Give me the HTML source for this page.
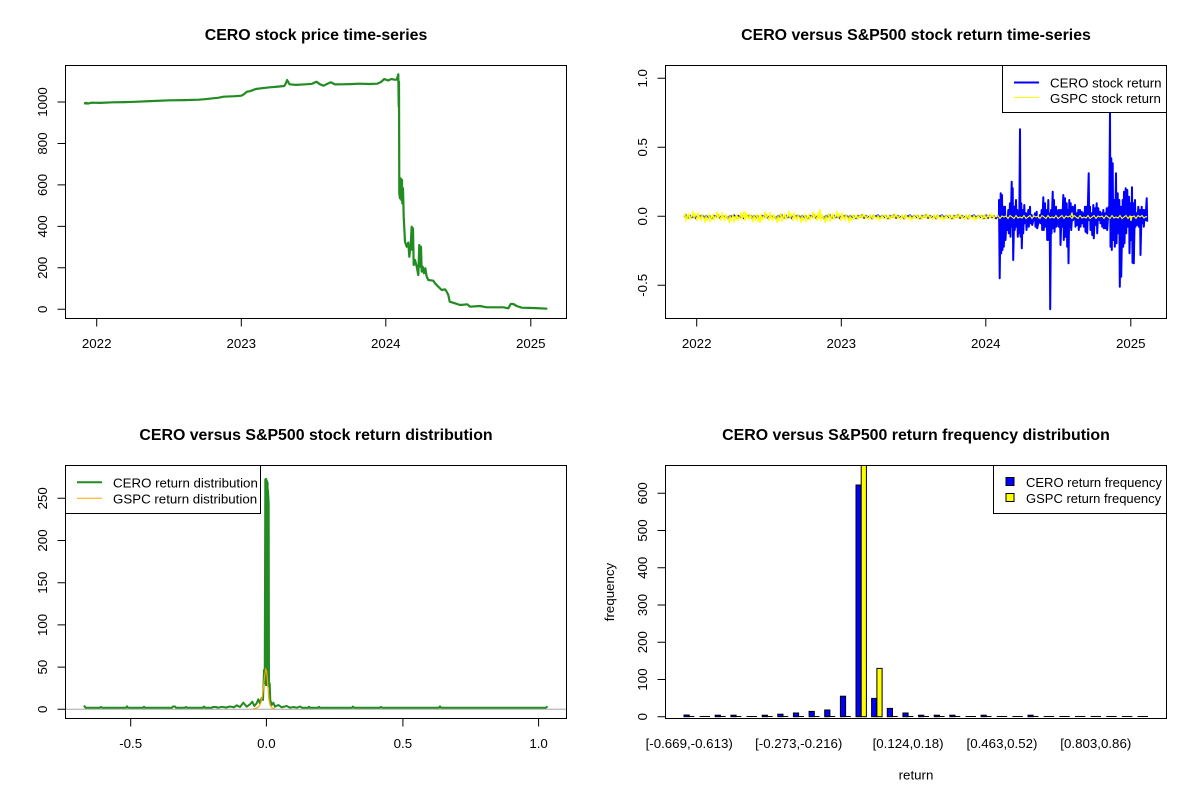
<!DOCTYPE html>
<html>
<head>
<meta charset="utf-8">
<style>
html,body{margin:0;padding:0;background:#fff;}
svg{display:block;}
text{font-family:"Liberation Sans",Arial,sans-serif;font-size:13.3px;fill:#000;}
.t{font-weight:bold;font-size:15.9px;}
.lg{font-size:13px;}
</style>
</head>
<body>
<svg width="1200" height="800" viewBox="0 0 1200 800" xmlns="http://www.w3.org/2000/svg">
<defs>
<path id="zb" d="M0,0 l2,-1.5 l2,2.5 l2,-2 l2,1.5 l2,-1 l2,2 l2,-2.5 l2,1"/>
<path id="ya" d="M0,0 l1,-4 l1,9 l1,-7 l1,3 l1,-5 l1,7 l1,-4 l1,1 l1,-6 l1,8 l1,-6 l1,4"/>
<path id="yb" d="M0,0 l1,-3 l1,6 l1,-4 l1,2 l1,-3 l1,5 l1,-4 l1,1 l1,-2 l1,4 l1,-5 l1,3 l1,-2 l1,4 l1,-3 l1,1"/>
<path id="yc" d="M0,0 l2,-1.5 l2,3 l2,-2.5 l2,1 l2,-1 l2,2.5 l2,-3 l2,1.5"/>
</defs>
<rect width="1200" height="800" fill="#fff"/>

<!-- ============ TOP LEFT ============ -->
<text class="t" x="316" y="40" text-anchor="middle">CERO stock price time-series</text>
<polyline fill="none" stroke="#228B22" stroke-width="2.2" stroke-linejoin="round" points="
84,103.5 86,102.8 88,103.6 91.4,102.7 100,102.9 112.9,102.3 125,102.1 137.9,101.7 150,101.1 170,100.3 185,100.1 198.6,99.7 205,99.2 212.9,98.3 218,97.8 223.6,96.7 235,96.2 241.4,95.7 244,94.2 246.8,91.7 250,91.2 255.7,89 262,88.2 270,87.3 278,86.6 284.3,86 286,83 287.1,80 289.6,84.3 296,84.9 305.7,84.3 312,83.8 316.4,81.7 320,84.3 323.6,85.7 327,84 330.7,82.3 335,84.4 341.4,84.3 350,84.1 359.3,83.7 370,84 377.1,83.7 381,82 384.3,79 388,80.5 391.4,79 394,79.6 396.8,79.7 398.3,74.3 398.7,106.7 399,81.7 399.3,193.3 400,198.3 400.7,178.3 401.3,200 402,180 402.3,203.3 403,188.3 403.7,216.7 405,241.7 406.7,246.7 408.3,242.7 409.3,256.7 410.7,245 411.7,226.7 412.3,250 413,228.3 413.7,265 415,260 416.7,266.7 418.3,275 419.3,245 420.3,266.7 421,246.7 421.7,271.7 422.7,266.7 424,273.3 425.3,268.3 426.7,276.7 428.3,280 433.3,280.7 435,283.3 438.3,286.7 441.7,290 445,289.3 446.7,291.7 448.3,295 449.7,301.7 455,303.3 460,305 467.3,304.3 470,306.7 480,306 486.7,307.3 503.3,307.3 508.3,308.3 510.7,304 513.3,304 516.7,306 521.7,307.7 533.3,308 547.3,308.7"/>
<rect x="65.5" y="65.5" width="501" height="253" fill="none" stroke="#000"/>
<path stroke="#000" fill="none" d="M57.5,309.3H65.5M57.5,267.8H65.5M57.5,226.4H65.5M57.5,184.9H65.5M57.5,143.5H65.5M57.5,102H65.5
M96.7,318.5V326.5M241.3,318.5V326.5M385.8,318.5V326.5M530.8,318.5V326.5"/>
<text transform="translate(47,309.3) rotate(-90)" text-anchor="middle">0</text>
<text transform="translate(47,267.8) rotate(-90)" text-anchor="middle">200</text>
<text transform="translate(47,226.4) rotate(-90)" text-anchor="middle">400</text>
<text transform="translate(47,184.9) rotate(-90)" text-anchor="middle">600</text>
<text transform="translate(47,143.5) rotate(-90)" text-anchor="middle">800</text>
<text transform="translate(47,102) rotate(-90)" text-anchor="middle">1000</text>
<text x="96.7" y="348" text-anchor="middle">2022</text>
<text x="241.3" y="348" text-anchor="middle">2023</text>
<text x="385.8" y="348" text-anchor="middle">2024</text>
<text x="530.8" y="348" text-anchor="middle">2025</text>

<!-- ============ TOP RIGHT ============ -->
<text class="t" x="916" y="40" text-anchor="middle">CERO versus S&amp;P500 stock return time-series</text>
<g fill="none" stroke="#0000FF" stroke-width="2" stroke-linejoin="round">
<use href="#zb" x="684" y="216.8"/><use href="#zb" x="700" y="216.8"/><use href="#zb" x="716" y="216.8"/><use href="#zb" x="732" y="216.8"/>
<use href="#zb" x="748" y="216.8"/><use href="#zb" x="764" y="216.8"/><use href="#zb" x="780" y="216.8"/><use href="#zb" x="796" y="216.8"/>
<use href="#zb" x="812" y="216.8"/><use href="#zb" x="828" y="216.8"/><use href="#zb" x="844" y="216.8"/><use href="#zb" x="860" y="216.8"/>
<use href="#zb" x="876" y="216.8"/><use href="#zb" x="892" y="216.8"/><use href="#zb" x="908" y="216.8"/><use href="#zb" x="924" y="216.8"/>
<use href="#zb" x="940" y="216.8"/><use href="#zb" x="956" y="216.8"/><use href="#zb" x="972" y="216.8"/><use href="#zb" x="984" y="216.8"/>
<path d="M999,216 L999,200 L999.7,278.3 L1000.7,193.3 L1001.2,253.3 L1002,195 L1002.5,250 L1003.3,206.7 L1003.8,246.7 L1005,206.7 L1005.5,240 L1006.7,216.7 L1007.2,230 L1008.3,210 L1008.8,233.3 L1010,203.3 L1010.5,236.7 L1011.7,181.7 L1012.2,226.7 L1012.7,188.3 L1013.2,260 L1014.3,206.7 L1014.8,230 L1016,200 L1016.5,226.7 L1017.3,210 L1017.8,236.7 L1018.7,220 L1019.2,233.3 L1020,129.3 L1020.5,236.7 L1021.3,203.3 L1021.8,248.3 L1022.7,210 L1023.2,233.3 L1024.3,205 L1024.8,223.3 L1026,213.3 L1026.5,230 L1028.3,210 L1028.8,226.7 L1030,206.7 L1030.5,223.3 L1031.7,215 L1032.2,225 L1035,213.3 L1035.5,226.7 L1036.7,211.7 L1037.2,228.3 L1040,215 L1040.5,223.3 L1041.7,210 L1042.2,230 L1043.3,197.3 L1043.8,230 L1045,203.3 L1045.5,226.7 L1046.7,210 L1047.2,240 L1048.3,200 L1048.8,240 L1049.7,213.3 L1050.2,309.3 L1051,210 L1051.5,233.3 L1052.7,191.7 L1053.2,228.3 L1054,200 L1054.5,231.7 L1056,206.7 L1056.5,226.7 L1058.3,210 L1058.8,226.7 L1060,210 L1060.5,245 L1061.7,210 L1062.2,226.7 L1063.3,195 L1063.8,240 L1065,198.3 L1065.5,236.7 L1066.7,203.3 L1067.2,246.7 L1068,210 L1068.5,263.3 L1069.3,200 L1069.8,226.7 L1070.7,203.3 L1071.2,230 L1072.7,206.7 L1073.2,220 L1075,205 L1075.5,226.7 L1076.7,213.3 L1077.2,225 L1078.3,210 L1078.8,230 L1080,210 L1080.5,226.7 L1081.7,211.7 L1082.2,223.3 L1083.3,213.3 L1083.8,226.7 L1085,206.7 L1085.5,231.7 L1086.7,206.7 L1087.2,233.3 L1088.7,173.3 L1089.2,220 L1090,206.7 L1090.5,230 L1091.7,213.3 L1092.2,235 L1093.3,205 L1093.8,238.3 L1095,208.3 L1095.5,225 L1096.7,203.3 L1097.2,233.3 L1098.3,208.3 L1098.8,220 L1100,211.7 L1100.5,223.3 L1101.7,213.3 L1102.2,226.7 L1103.3,210 L1103.8,228.3 L1105,213.3 L1105.5,228.3 L1106.7,208.3 L1107.2,230 L1108.7,206.7 L1109.2,218.3 L1110,113.3 L1110.5,246.7 L1111.3,158.3 L1111.8,250 L1112.7,163.3 L1113.2,240 L1114.3,200 L1114.8,246.7 L1116,173.3 L1116.5,243.3 L1117.7,193.3 L1118.2,233.3 L1119.3,200 L1119.8,286.7 L1120.7,206.7 L1121.2,276.7 L1122.7,200 L1123.2,246.7 L1124,191.7 L1124.5,243.3 L1125.7,188.3 L1126.2,233.3 L1127.3,190 L1127.8,226.7 L1129,196.7 L1129.5,253.3 L1130.7,203.3 L1131.2,240 L1132,187.3 L1132.5,262.7 L1133.3,203.3 L1133.8,263.3 L1135,200 L1135.5,226.7 L1136.7,213.3 L1137.2,225 L1138.3,206.7 L1138.8,226.7 L1140,210 L1140.5,255 L1141.7,206.7 L1142.2,223.3 L1143.3,210 L1143.8,226.7 L1145,210 L1145.5,220 L1146.7,198.3 L1147.2,221.7"/>
</g>
<g fill="none" stroke="#FFFF00" stroke-width="1.1">
<use href="#ya" x="684" y="217"/>
<use href="#ya" transform="translate(696,217) scale(1,-1)"/>
<use href="#ya" x="708" y="217.5"/>
<use href="#ya" transform="translate(720,217) scale(1,-1)"/>
<use href="#ya" x="732" y="218"/>
<use href="#ya" transform="translate(744,216.5) scale(1,-1)"/>
<use href="#ya" x="756" y="217.5"/>
<use href="#ya" transform="translate(768,217) scale(1,-1)"/>
<use href="#ya" x="780" y="217"/>
<use href="#ya" transform="translate(792,217) scale(1,-1)"/>
<use href="#ya" x="804" y="217.5"/>
<use href="#ya" transform="translate(816,217) scale(1,-1)"/>
<use href="#ya" x="828" y="217"/>
<use href="#ya" transform="translate(840,217) scale(1,-1)"/>
<use href="#yb" x="852" y="217"/><use href="#yb" transform="translate(868,217) scale(1,-1)"/>
<use href="#yb" x="884" y="217"/><use href="#yb" transform="translate(900,217) scale(1,-1)"/>
<use href="#yb" x="916" y="217"/><use href="#yb" transform="translate(932,217) scale(1,-1)"/>
<use href="#yb" x="948" y="217"/><use href="#yb" transform="translate(964,217) scale(1,-1)"/>
<use href="#yb" x="980" y="217"/>
<use href="#yc" x="996" y="217"/><use href="#yc" transform="translate(1012,217) scale(1,-1)"/>
<use href="#yc" x="1028" y="217"/><use href="#yc" transform="translate(1044,217) scale(1,-1)"/>
<use href="#yc" x="1060" y="217"/><use href="#yc" transform="translate(1076,217) scale(1,-1)"/>
<use href="#yc" x="1092" y="217"/><use href="#yc" transform="translate(1108,217) scale(1,-1)"/>
<use href="#yc" x="1124" y="217"/>
<path d="M1140,217 l2,-1.5 l2,2.5 l2,-1.5 l1,0.5 M819,217 L820,209 L821,218 M759,216 L760,223 L761,216 M743,217 L744,211 L745,221 L746,216 M1071,216 L1072,212.5 L1073,218 M1130,216 L1131,221 L1132,216"/>
</g>
<rect x="665.5" y="65.5" width="501" height="253" fill="none" stroke="#000"/>
<path stroke="#000" fill="none" d="M657.5,285.3H665.5M657.5,216.3H665.5M657.5,147.3H665.5M657.5,78.3H665.5
M696.7,318.5V326.5M841.3,318.5V326.5M985.8,318.5V326.5M1130.8,318.5V326.5"/>
<text transform="translate(647,285.3) rotate(-90)" text-anchor="middle">-0.5</text>
<text transform="translate(647,216.3) rotate(-90)" text-anchor="middle">0.0</text>
<text transform="translate(647,147.3) rotate(-90)" text-anchor="middle">0.5</text>
<text transform="translate(647,78.3) rotate(-90)" text-anchor="middle">1.0</text>
<text x="696.7" y="348" text-anchor="middle">2022</text>
<text x="841.3" y="348" text-anchor="middle">2023</text>
<text x="985.8" y="348" text-anchor="middle">2024</text>
<text x="1130.8" y="348" text-anchor="middle">2025</text>
<rect x="1002.5" y="65.5" width="164" height="47" fill="#fff" stroke="#000"/>
<line x1="1014" y1="82.5" x2="1039" y2="82.5" stroke="#0000FF" stroke-width="2"/>
<line x1="1014" y1="97.5" x2="1039" y2="97.5" stroke="#FFFF00" stroke-width="1"/>
<text x="1050" y="87.5">CERO stock return</text>
<text x="1050" y="103">GSPC stock return</text>

<!-- ============ BOTTOM LEFT ============ -->
<text class="t" x="316" y="440" text-anchor="middle">CERO versus S&amp;P500 stock return distribution</text>
<line x1="65.5" y1="709.3" x2="566.5" y2="709.3" stroke="#BEBEBE" stroke-width="1.3"/>
<path fill="none" stroke="#228B22" stroke-width="2" stroke-linejoin="round" d="M84,705.5 L85.5,707.7 L100,707.7 L101,707 L102,707.7 L126,707.7 L127,706.3 L128,707.7 L143,707.7 L144,706.8 L145,707.7 L172,707.7 L173,706.5 L175,706.5 L176,707.7 L185,707.7 L186,707 L187,707.7 L203,707.7 L204,706.5 L205,707.7 L212,707.7 L213,707 L216,707 L218,707.7 L222,706.8 L226,707.5 L230,706.5 L234,707.3 L236.7,705.3 L240,707 L243.3,702.7 L246.7,706.7 L250,704.3 L252.3,701.7 L254.3,706 L256.7,703.3 L258.3,699.3 L260,703.3 L261.7,698 L263,700 L264,670 L264.7,683.3 L265.3,479.3 L266.2,479 L266.6,482 L267,481 L267.5,503 L268,490 L268.7,503.3 L269,686.7 L269.7,683.3 L270.3,700 L271.7,705 L273.3,702.7 L275,706.7 L278.3,705 L281.7,707.3 L286.7,706 L290,707.7 L293.3,707 L297,707.7 L300,706.5 L302,707.7 L308,707.7 L309,706.8 L310,707.7 L318,707.7 L319,706.8 L320,707.7 L352,707.7 L353,706.6 L354,707.7 L380,707.7 L381,707 L382,707.7 L439,707.7 L440,706.3 L441,707.7 L546,707.7 L547.5,706.3"/>
<path fill="#228B22" d="M265,482 L268.6,482 L268.6,686 L265,686 Z"/>
<polyline fill="none" stroke="#FFA500" stroke-width="1.2" points="253.3,709 258.3,707.3 260.7,703.3 262.3,696.7 263.3,688.3 264.3,678.3 265.7,669.3 266.7,671.7 267.7,683.3 268.7,698.3 270,705 271.7,707.7 275,709"/>
<rect x="65.5" y="465.5" width="501" height="253" fill="none" stroke="#000"/>
<path stroke="#000" fill="none" d="M57.5,709.3H65.5M57.5,667.1H65.5M57.5,624.9H65.5M57.5,582.7H65.5M57.5,540.5H65.5M57.5,498.3H65.5
M130.7,718.5V726.5M266.4,718.5V726.5M402.9,718.5V726.5M538.6,718.5V726.5"/>
<text transform="translate(47,709.3) rotate(-90)" text-anchor="middle">0</text>
<text transform="translate(47,667.1) rotate(-90)" text-anchor="middle">50</text>
<text transform="translate(47,624.9) rotate(-90)" text-anchor="middle">100</text>
<text transform="translate(47,582.7) rotate(-90)" text-anchor="middle">150</text>
<text transform="translate(47,540.5) rotate(-90)" text-anchor="middle">200</text>
<text transform="translate(47,498.3) rotate(-90)" text-anchor="middle">250</text>
<text x="130.7" y="748" text-anchor="middle">-0.5</text>
<text x="266.4" y="748" text-anchor="middle">0.0</text>
<text x="402.9" y="748" text-anchor="middle">0.5</text>
<text x="538.6" y="748" text-anchor="middle">1.0</text>
<rect x="65.5" y="465.5" width="195" height="48" fill="#fff" stroke="#000"/>
<line x1="77" y1="482.3" x2="102" y2="482.3" stroke="#228B22" stroke-width="2"/>
<line x1="77" y1="498.3" x2="102" y2="498.3" stroke="#FFA500" stroke-width="1"/>
<text x="113" y="487.5">CERO return distribution</text>
<text x="113" y="503.5">GSPC return distribution</text>

<!-- ============ BOTTOM RIGHT ============ -->
<text class="t" x="916" y="440" text-anchor="middle">CERO versus S&amp;P500 return frequency distribution</text>
<path stroke="#000" fill="none" d="M683.96,716.5 h10.43 m5.21,0 h10.43 m5.21,0 h10.43 m5.21,0 h10.43 m5.21,0 h10.43 m5.21,0 h10.43 m5.21,0 h10.43 m5.21,0 h10.43 m5.21,0 h10.43 m5.21,0 h10.43 m5.21,0 h10.43 m5.21,0 h10.43 m5.21,0 h10.43 m5.21,0 h10.43 m5.21,0 h10.43 m5.21,0 h10.43 m5.21,0 h10.43 m5.21,0 h10.43 m5.21,0 h10.43 m5.21,0 h10.43 m5.21,0 h10.43 m5.21,0 h10.43 m5.21,0 h10.43 m5.21,0 h10.43 m5.21,0 h10.43 m5.21,0 h10.43 m5.21,0 h10.43 m5.21,0 h10.43 m5.21,0 h10.43 m5.21,0 h10.43"/>
<g stroke="#000" stroke-width="1" fill="#0000FF">
<rect x="684" y="715" width="5.2" height="1.7"/>
<rect x="715.2" y="715.2" width="5.2" height="1.5"/>
<rect x="730.9" y="715.2" width="5.2" height="1.5"/>
<rect x="762.2" y="715.2" width="5.2" height="1.5"/>
<rect x="777.8" y="714.2" width="5.2" height="2.5"/>
<rect x="793.4" y="713" width="5.2" height="3.7"/>
<rect x="809.1" y="711.4" width="5.2" height="5.3"/>
<rect x="824.7" y="710" width="5.2" height="6.7"/>
<rect x="840.4" y="696.2" width="5.2" height="20.5"/>
<rect x="856" y="485" width="5.2" height="231.7"/>
<rect x="871.6" y="698.4" width="5.2" height="18.3"/>
<rect x="887.3" y="708.4" width="5.2" height="8.3"/>
<rect x="902.9" y="713" width="5.2" height="3.7"/>
<rect x="918.6" y="715.2" width="5.2" height="1.5"/>
<rect x="934.2" y="715.2" width="5.2" height="1.5"/>
<rect x="949.8" y="715.2" width="5.2" height="1.5"/>
<rect x="981.1" y="715.2" width="5.2" height="1.5"/>
<rect x="1028" y="715.2" width="5.2" height="1.5"/>
</g>
<g stroke="#000" stroke-width="1" fill="#FFFF00">
<rect x="861.2" y="465.5" width="5.2" height="251.2"/>
<rect x="876.9" y="668.4" width="5.2" height="48.3"/>
</g>
<rect x="665.5" y="465.5" width="501" height="253" fill="none" stroke="#000"/>
<path stroke="#000" fill="none" d="M657.5,716.7H665.5M657.5,679.5H665.5M657.5,642.2H665.5M657.5,605H665.5M657.5,567.8H665.5M657.5,530.5H665.5M657.5,493.3H665.5"/>
<text transform="translate(647,716.7) rotate(-90)" text-anchor="middle">0</text>
<text transform="translate(647,679.5) rotate(-90)" text-anchor="middle">100</text>
<text transform="translate(647,642.2) rotate(-90)" text-anchor="middle">200</text>
<text transform="translate(647,605) rotate(-90)" text-anchor="middle">300</text>
<text transform="translate(647,567.8) rotate(-90)" text-anchor="middle">400</text>
<text transform="translate(647,530.5) rotate(-90)" text-anchor="middle">500</text>
<text transform="translate(647,493.3) rotate(-90)" text-anchor="middle">600</text>
<text x="689.2" y="748" text-anchor="middle">[-0.669,-0.613)</text>
<text x="798.7" y="748" text-anchor="middle">[-0.273,-0.216)</text>
<text x="908.1" y="748" text-anchor="middle">[0.124,0.18)</text>
<text x="1002" y="748" text-anchor="middle">[0.463,0.52)</text>
<text x="1095.8" y="748" text-anchor="middle">[0.803,0.86)</text>
<text x="916" y="779.5" text-anchor="middle">return</text>
<text transform="translate(614,592) rotate(-90)" text-anchor="middle">frequency</text>
<rect x="993.5" y="465.5" width="173" height="48" fill="#fff" stroke="#000"/>
<rect x="1006" y="477.5" width="8" height="8" fill="#0000FF" stroke="#000"/>
<rect x="1006" y="493.5" width="8" height="8" fill="#FFFF00" stroke="#000"/>
<text class="lg" x="1026" y="487">CERO return frequency</text>
<text class="lg" x="1026" y="503">GSPC return frequency</text>
</svg>
</body>
</html>
